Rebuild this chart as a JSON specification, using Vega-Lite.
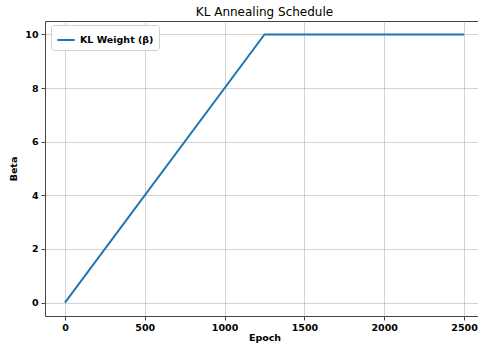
{
  "$schema": "https://vega.github.io/schema/vega-lite/v6.json",
  "autosize": {"type": "none"},
  "padding": {"left": 45, "top": 21, "right": 0, "bottom": 27},
  "width": 439,
  "height": 295,
  "background": "white",
  "title": {
    "text": "KL Annealing Schedule",
    "font": "DejaVu Sans",
    "fontSize": 12,
    "fontWeight": "normal",
    "color": "#000000",
    "anchor": "middle",
    "offset": 2
  },
  "data": {
    "values": [
      {"epoch": 0, "beta": 0, "series": "KL Weight (β)"},
      {"epoch": 1250, "beta": 10, "series": "KL Weight (β)"},
      {"epoch": 2500, "beta": 10, "series": "KL Weight (β)"}
    ]
  },
  "mark": {"type": "line", "strokeWidth": 2, "clip": true},
  "encoding": {
    "x": {
      "field": "epoch",
      "type": "quantitative",
      "scale": {"domain": [-125, 2625], "nice": false, "zero": false},
      "axis": {"values": [0, 500, 1000, 1500, 2000, 2500], "format": "d", "title": "Epoch"}
    },
    "y": {
      "field": "beta",
      "type": "quantitative",
      "scale": {"domain": [-0.5, 10.5], "nice": false, "zero": false},
      "axis": {"values": [0, 2, 4, 6, 8, 10], "format": "d", "title": "Beta"}
    },
    "color": {
      "field": "series",
      "type": "nominal",
      "scale": {"range": ["#1f77b4"]},
      "legend": {
        "title": null,
        "orient": "none",
        "legendX": 6,
        "legendY": 4,
        "symbolType": "stroke",
        "symbolStrokeWidth": 2,
        "symbolSize": 300,
        "labelFont": "DejaVu Sans",
        "labelFontSize": 9.5,
        "labelFontWeight": "bold",
        "labelColor": "#000000",
        "fillColor": "white",
        "strokeColor": "#d0d0d0",
        "cornerRadius": 3,
        "padding": 5
      }
    }
  },
  "config": {
    "view": {"stroke": "#444444", "strokeWidth": 1},
    "axis": {
      "grid": true,
      "gridColor": "#b0b0b0",
      "gridOpacity": 0.7,
      "gridWidth": 0.8,
      "domain": false,
      "tickColor": "#444444",
      "tickSize": 4,
      "labelFont": "DejaVu Sans",
      "labelFontSize": 9.5,
      "labelFontWeight": "bold",
      "labelColor": "#000000",
      "titleFont": "DejaVu Sans",
      "titleFontSize": 9.5,
      "titleFontWeight": "bold",
      "titleColor": "#000000"
    },
    "axisX": {"labelPadding": 2, "titlePadding": 1},
    "axisY": {"labelPadding": 3, "titlePadding": 6}
  }
}
